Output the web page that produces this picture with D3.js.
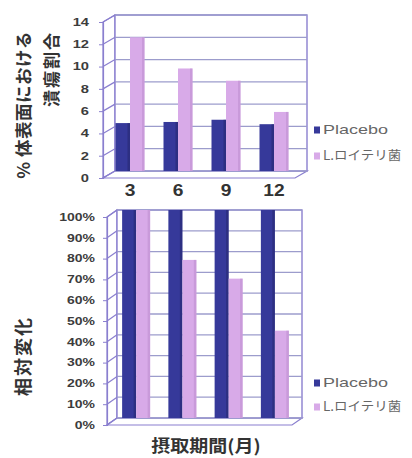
<!DOCTYPE html>
<html>
<head>
<meta charset="utf-8">
<script src="https://cdn.jsdelivr.net/npm/d3@7"></script>
<style>
  html, body { margin: 0; padding: 0; background: #fff; }
  svg { display: block; }
  text { font-family: "Liberation Sans", Arial, sans-serif; }
  .jp { font-family: "Noto Sans CJK JP", sans-serif; }
</style>
</head>
<body>
<svg id="chart" width="412" height="458"></svg>
<script>
// Treatment months on the x axis
const months = ["3", "6", "9", "12"];
const seriesNames = ["Placebo", "L.ロイテリ菌"];

// Upper panel: % of body surface with ulcers
const ulcerPlacebo = [4.3, 4.4, 4.6, 4.2];
const ulcerReuteri = [12.0, 9.2, 8.1, 5.3];
const ulcerTicks = [0, 2, 4, 6, 8, 10, 12, 14];

// Lower panel: relative change (fraction of baseline)
const relPlacebo = [1.00, 1.00, 1.00, 1.00];
const relReuteri = [1.00, 0.76, 0.67, 0.42];
const relTicks = [0, 0.1, 0.2, 0.3, 0.4, 0.5, 0.6, 0.7, 0.8, 0.9, 1.0];

const colors = ["#36399a", "#d8aae8"];
const sideColors = ["#23256a", "#b98acb"];
const wallStroke = "#8a7fcf";
const gridStroke = "#9c9ccc";
const wide = 1.4; // horizontal stretch of the small labels

const svg = d3.select("#chart");

function panel(opt) {
  const g = svg.append("g");
  const x = d3.scaleBand().domain(months).range([opt.x0, opt.x1]);
  const y = d3.scaleLinear().domain(opt.domain).range([opt.yb, opt.yt]);
  const inner = d3.scaleBand().domain(seriesNames).range([0, opt.groupW]);
  const dx = opt.dx, dy = opt.dy;

  // side wall (left) and floor of the 3-D box
  g.append("polygon")
    .attr("points", [[opt.x0, opt.yt], [opt.x0 + dx, opt.yt + dy], [opt.x0 + dx, opt.yb + dy], [opt.x0, opt.yb]].join(" "))
    .attr("fill", "#fff").attr("stroke", wallStroke).attr("stroke-width", 1.2);
  g.append("polygon")
    .attr("points", [[opt.x0, opt.yb], [opt.x1, opt.yb], [opt.x1 + dx, opt.yb + dy], [opt.x0 + dx, opt.yb + dy]].join(" "))
    .attr("fill", "#fff").attr("stroke", wallStroke).attr("stroke-width", 1.2);

  // back wall
  g.append("rect")
    .attr("x", opt.x0).attr("y", opt.yt)
    .attr("width", opt.x1 - opt.x0).attr("height", opt.yb - opt.yt)
    .attr("fill", "#fff").attr("stroke", wallStroke).attr("stroke-width", 1.4);

  // gridlines on back wall and side wall
  g.selectAll(".grid").data(opt.ticks).join("line")
    .attr("x1", opt.x0).attr("x2", opt.x1)
    .attr("y1", d => y(d)).attr("y2", d => y(d))
    .attr("stroke", gridStroke).attr("stroke-width", 1.3);
  g.selectAll(".sgrid").data(opt.ticks).join("line")
    .attr("x1", opt.x0).attr("x2", opt.x0 + dx)
    .attr("y1", d => y(d)).attr("y2", d => y(d) + dy)
    .attr("stroke", wallStroke).attr("stroke-width", 1.2);

  // front value axis built from a d3 axis, shifted to the front plane
  const axis = d3.axisLeft(y).tickValues(opt.ticks).tickSize(4).tickPadding(0)
    .tickFormat(opt.fmt);
  const ax = g.append("g")
    .attr("transform", `translate(${opt.x0 + dx},${dy})`)
    .call(axis);
  ax.select(".domain").attr("stroke", wallStroke).attr("stroke-width", 1.2);
  ax.selectAll(".tick line").attr("stroke", wallStroke);
  ax.selectAll(".tick text")
    .attr("x", 0)
    .attr("transform", `translate(${opt.labelGap},0) scale(${wide},1)`)
    .attr("fill", "#3c3c3c").attr("font-size", opt.tickFont)
    .attr("font-weight", "bold");

  // bars
  const data = [opt.a, opt.b];
  data.forEach((vals, si) => {
    vals.forEach((v, i) => {
      const gx = x(months[i]) + x.bandwidth() / 2 + opt.shift - opt.groupW / 2 + inner(seriesNames[si]);
      const w = inner.bandwidth();
      const top = y(v);
      g.append("rect")
        .attr("x", gx).attr("y", top)
        .attr("width", w).attr("height", y(0) - top)
        .attr("fill", colors[si]);
      g.append("rect")
        .attr("x", gx + w - 2.5).attr("y", top)
        .attr("width", 2.5).attr("height", y(0) - top)
        .attr("fill", sideColors[si]).attr("opacity", 0.5);
    });
  });

  // category labels
  if (opt.showCats) {
    g.selectAll(".cat").data(months).join("g")
      .attr("transform", d => `translate(${x(d) + x.bandwidth() / 2 + opt.shift},${opt.catY}) scale(1.2,1)`)
      .append("text")
      .attr("text-anchor", "middle")
      .attr("font-size", 16).attr("font-weight", "bold")
      .attr("fill", "#333")
      .text(d => d);
  }

  // legend
  seriesNames.forEach((name, si) => {
    const ly = opt.legY + si * opt.legGap;
    const sx = si === 1 ? 1.08 : 1.5;
    g.append("rect").attr("x", 314).attr("y", ly - 3.5).attr("width", 6).attr("height", 7)
      .attr("fill", colors[si]);
    g.append("g").attr("transform", `translate(323,${ly}) scale(${sx},1)`)
      .append("text").attr("dy", "0.35em")
      .attr("class", si === 1 ? "jp" : null)
      .attr("font-size", si === 1 ? 12.5 : 12).attr("fill", "#666")
      .text(name);
  });
}

panel({
  x0: 115, x1: 307, yt: 15, yb: 171, dx: -12, dy: 7, shift: -9, groupW: 29,
  domain: [0, 14], ticks: ulcerTicks, fmt: d3.format("d"), tickFont: 10.5, labelGap: -14,
  a: ulcerPlacebo, b: ulcerReuteri, showCats: true, catY: 196,
  legY: 130, legGap: 26
});

panel({
  x0: 117, x1: 302, yt: 210, yb: 418, dx: -10, dy: 7, shift: -4, groupW: 28,
  domain: [0, 1], ticks: relTicks, fmt: d3.format(".0%"), tickFont: 10, labelGap: -12,
  a: relPlacebo, b: relReuteri, showCats: false,
  legY: 383, legGap: 24
});

// axis titles
svg.append("text").attr("class", "jp")
  .attr("transform", "translate(22,31) rotate(-90)")
  .attr("text-anchor", "end").attr("dominant-baseline", "central")
  .attr("font-size", 17.5).attr("font-weight", "bold").attr("fill", "#333")
  .attr("letter-spacing", 0.5)
  .text("% 体表面における");
svg.append("text").attr("class", "jp")
  .attr("transform", "translate(50,31) rotate(-90)")
  .attr("text-anchor", "end").attr("dominant-baseline", "central")
  .attr("font-size", 17).attr("font-weight", "bold").attr("fill", "#333")
  .attr("letter-spacing", 2)
  .text("潰瘍割合");
svg.append("text").attr("class", "jp")
  .attr("transform", "translate(22,356) rotate(-90)")
  .attr("text-anchor", "middle").attr("dominant-baseline", "central")
  .attr("font-size", 18).attr("font-weight", "bold").attr("fill", "#333")
  .attr("letter-spacing", 2)
  .text("相対変化");
svg.append("g").attr("transform", "translate(206,444) scale(1.12,1)")
  .append("text").attr("class", "jp")
  .attr("text-anchor", "middle").attr("dominant-baseline", "central")
  .attr("font-size", 17).attr("font-weight", "bold").attr("fill", "#333")
  .text("摂取期間(月)");
</script>
</body>
</html>
